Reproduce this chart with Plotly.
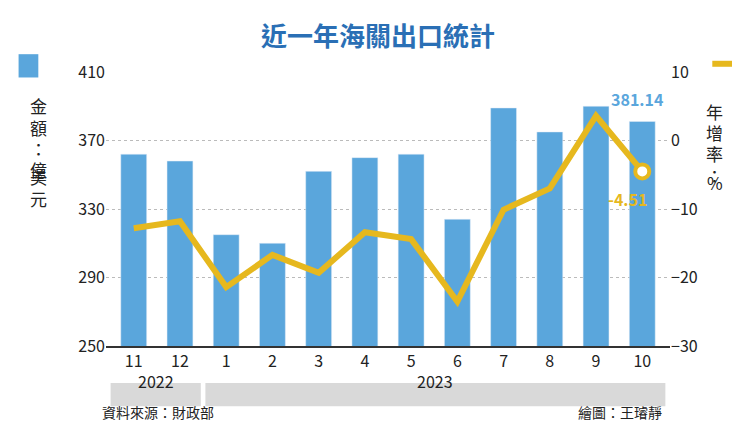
import plotly.graph_objects as go

months = ["11","12","1","2","3","4","5","6","7","8","9","10"]
amount = [362, 358, 315, 310, 352, 360, 362, 324, 389, 375, 390, 381.14]
growth = [-12.8, -11.8, -21.4, -16.7, -19.3, -13.4, -14.4, -23.5, -10.1, -7.0, 3.6, -4.51]
years = [("2022", -0.5, 1.45), ("2023", 1.55, 11.5)]

F = "Noto Sans CJK TC"
blue = "#5aa6dc"; gold = "#e6b81e"
fig = go.Figure()
fig.add_bar(x=list(range(12)), y=amount, marker_color=blue, width=0.56, yaxis="y")
fig.add_scatter(x=list(range(12)), y=growth, yaxis="y2", mode="lines",
                line=dict(color=gold, width=6), hoverinfo="skip")
fig.add_scatter(x=[11], y=[growth[-1]], yaxis="y2", mode="markers",
                marker=dict(color="white", size=14, line=dict(color=gold, width=4)))
fig.update_layout(
    width=740, height=438, showlegend=False, plot_bgcolor="white", paper_bgcolor="white",
    margin=dict(l=98, r=78, t=64, b=100, autoexpand=False), font=dict(family=F, color="#222"),
    xaxis=dict(tickvals=list(range(12)), ticktext=months, range=[-0.6, 11.6],
               showline=True, linecolor="#333", linewidth=1.5, ticks="", tickfont=dict(size=16)),
    yaxis=dict(range=[250, 410], tickvals=[250, 290, 330, 370, 410], showgrid=True,
               gridcolor="#bbb", griddash="dot", tickfont=dict(size=16), zeroline=False),
    yaxis2=dict(range=[-30, 10], tickvals=[-30, -20, -10, 0, 10], overlaying="y", side="right",
                showgrid=False, tickfont=dict(size=16), zeroline=False),
    title=dict(text="<b>近一年海關出口統計</b>", x=0.5, y=0.955, font=dict(size=26, color="#2a6fb5", family=F)),
)
for name, a, b in years:
    fig.add_shape(type="rect", xref="x", yref="paper", x0=a, x1=b, y0=-0.22, y1=-0.135,
                  fillcolor="#d9d9d9", line_width=0)
    fig.add_annotation(x=(a + b) / 2, xref="x", yref="paper", y=-0.178, text=name,
                       showarrow=False, font=dict(size=16))
fig.add_annotation(x=11, y=amount[-1], text="<b>381.14</b>", showarrow=False, yshift=22, xshift=-5,
                   font=dict(size=16, color=blue))
fig.add_annotation(x=11, xref="x", y=growth[-1], yref="y2", text="<b>-4.51</b>", showarrow=False,
                   yshift=-28, xshift=-15, font=dict(size=16, color=gold))
fig.add_shape(type="rect", xref="paper", yref="paper", x0=-0.155, x1=-0.12, y0=0.98, y1=1.065,
              fillcolor=blue, line_width=0)
for i, ch in enumerate("金額：億美元"):
    fig.add_annotation(xref="paper", yref="paper", x=-0.138, y=0.93 - i * 0.078, text=ch,
                       showarrow=False, font=dict(size=17))
fig.add_shape(type="line", xref="paper", yref="paper", x0=1.075, x1=1.118, y0=1.03, y1=1.03,
              line=dict(color=gold, width=6))
for i, ch in enumerate("年增率：%"):
    fig.add_annotation(xref="paper", yref="paper", x=1.097, y=0.91 - i * 0.078, text=ch,
                       showarrow=False, font=dict(size=17))
fig.add_annotation(xref="paper", yref="paper", x=-0.01, y=-0.285, text="資料來源：財政部",
                   showarrow=False, xanchor="left", font=dict(size=14))
fig.add_annotation(xref="paper", yref="paper", x=0.99, y=-0.285, text="繪圖：王璿靜",
                   showarrow=False, xanchor="right", font=dict(size=14))
fig.write_html("out.html")
